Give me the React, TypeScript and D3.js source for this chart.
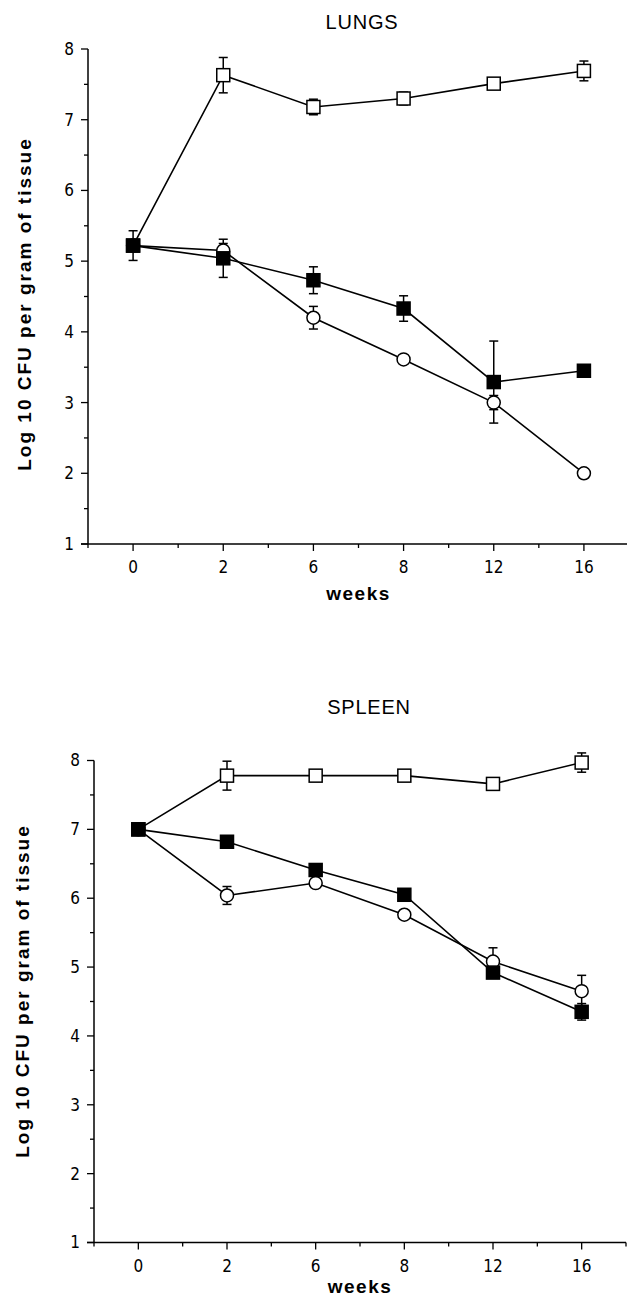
import React, {useEffect, useRef} from "react";
import * as d3 from "d3";

// x categories (weeks) - equally spaced in the figure
const weeks = ["0", "2", "6", "8", "12", "16"];
const yTicks = [1, 2, 3, 4, 5, 6, 7, 8];

// LUNGS
const lungsOpenSq = [5.22, 7.63, 7.18, 7.30, 7.51, 7.69];
const lungsOpenSqErr = [0, 0.25, 0.11, 0.09, 0, 0.14];
const lungsCircle = [5.22, 5.15, 4.20, 3.61, 3.00, 2.00];
const lungsCircleErr = [0, 0.1, 0.16, 0, 0.1, 0];
const lungsFilledSq = [5.22, 5.04, 4.73, 4.33, 3.29, 3.45];
const lungsFilledSqErr = [0.21, 0.27, 0.19, 0.18, 0.58, 0];

// SPLEEN
const spleenOpenSq = [7.0, 7.78, 7.78, 7.78, 7.66, 7.97];
const spleenOpenSqErr = [0, 0.21, 0, 0, 0, 0.14];
const spleenCircle = [7.0, 6.04, 6.22, 5.76, 5.08, 4.65];
const spleenCircleErr = [0, 0.13, 0, 0, 0.2, 0.23];
const spleenFilledSq = [7.0, 6.82, 6.41, 6.05, 4.92, 4.35];
const spleenFilledSqErr = [0, 0, 0, 0, 0, 0.12];

const panels = [
    {
        title: "LUNGS", titleX: 362, titleY: 29,
        axisX: 88, xEnd: 629, yTop: 49, yBottom: 544, labelY: 304, labelX: 31, weeksDy: 56,
        series: [
            {kind: "openSq", values: lungsOpenSq, err: lungsOpenSqErr},
            {kind: "circle", values: lungsCircle, err: lungsCircleErr},
            {kind: "filledSq", values: lungsFilledSq, err: lungsFilledSqErr},
        ],
    },
    {
        title: "SPLEEN", titleX: 369, titleY: 714,
        axisX: 94, xEnd: 626, yTop: 760.5, yBottom: 1242.5, labelY: 991, labelX: 29, weeksDy: 50,
        series: [
            {kind: "openSq", values: spleenOpenSq, err: spleenOpenSqErr},
            {kind: "circle", values: spleenCircle, err: spleenCircleErr},
            {kind: "filledSq", values: spleenFilledSq, err: spleenFilledSqErr},
        ],
    },
];

const tickFont = "'Liberation Sans Narrow', 'DejaVu Sans Condensed', 'Arial Narrow', sans-serif";
const boldFont = "'Liberation Sans', Arial, Helvetica, sans-serif";

const App = () => {
    const ref = useRef(null);

    useEffect(() => {
        const svg = d3.select(ref.current);
        svg.selectAll("*").remove();

        panels.forEach(p => {
            const g = svg.append("g");
            const x = d3.scalePoint().domain(weeks).range([p.axisX, p.xEnd]).padding(0.5);
            const y = d3.scaleLinear().domain([1, 8]).range([p.yBottom, p.yTop]);
            const step = x.step();

            // title
            g.append("text")
                .attr("x", p.titleX)
                .attr("y", p.titleY)
                .attr("text-anchor", "middle")
                .style("font-family", boldFont)
                .style("font-size", "20px")
                .style("letter-spacing", "0.8px")
                .text(p.title);

            // y axis
            g.append("line")
                .attr("x1", p.axisX).attr("x2", p.axisX)
                .attr("y1", y(8)).attr("y2", y(1))
                .attr("stroke", "black").attr("stroke-width", 1.5);
            d3.range(1, 8.01, 0.5).forEach(v => {
                const major = Number.isInteger(v);
                g.append("line")
                    .attr("x1", p.axisX - (major ? 7 : 4)).attr("x2", p.axisX)
                    .attr("y1", y(v)).attr("y2", y(v))
                    .attr("stroke", "black").attr("stroke-width", 1.3);
            });
            g.selectAll(".ytick")
                .data(yTicks)
                .enter()
                .append("text")
                .attr("x", p.axisX - 14)
                .attr("y", d => y(d))
                .attr("dy", "0.35em")
                .attr("text-anchor", "end")
                .style("font-family", tickFont)
                .style("font-size", "17px")
                .text(d => d);

            // x axis
            g.append("line")
                .attr("x1", p.axisX - 7).attr("x2", p.xEnd)
                .attr("y1", y(1)).attr("y2", y(1))
                .attr("stroke", "black").attr("stroke-width", 1.5);
            d3.range(-1, weeks.length).forEach(i => {
                const xm = x(weeks[0]) + (i + 0.5) * step;
                g.append("line")
                    .attr("x1", xm).attr("x2", xm)
                    .attr("y1", y(1)).attr("y2", y(1) + 4)
                    .attr("stroke", "black").attr("stroke-width", 1.3);
            });
            weeks.forEach(w => {
                g.append("line")
                    .attr("x1", x(w)).attr("x2", x(w))
                    .attr("y1", y(1)).attr("y2", y(1) + 7)
                    .attr("stroke", "black").attr("stroke-width", 1.3);
                g.append("text")
                    .attr("x", x(w))
                    .attr("y", y(1) + 29)
                    .attr("text-anchor", "middle")
                    .style("font-family", tickFont)
                    .style("font-size", "17px")
                    .text(w);
            });

            // axis labels
            g.append("text")
                .attr("x", (p.axisX + p.xEnd) / 2)
                .attr("y", y(1) + p.weeksDy)
                .attr("text-anchor", "middle")
                .style("font-family", boldFont)
                .style("font-weight", "bold")
                .style("font-size", "19px")
                .style("letter-spacing", "1.5px")
                .text("weeks");
            g.append("text")
                .attr("transform", `translate(${p.labelX}, ${p.labelY}) rotate(-90)`)
                .attr("text-anchor", "middle")
                .style("font-family", boldFont)
                .style("font-weight", "bold")
                .style("font-size", "19px")
                .style("letter-spacing", "2px")
                .text("Log 10 CFU per gram of tissue");

            const line = d3.line().x((d, i) => x(weeks[i])).y(d => y(d));

            // lines
            p.series.forEach(s => {
                g.append("path")
                    .attr("d", line(s.values))
                    .attr("fill", "none")
                    .attr("stroke", "black")
                    .attr("stroke-width", 1.6);
            });

            // error bars
            p.series.forEach(s => {
                s.values.forEach((v, i) => {
                    const e = s.err[i];
                    if (!e) return;
                    const cx = x(weeks[i]);
                    g.append("line")
                        .attr("x1", cx).attr("x2", cx)
                        .attr("y1", y(v + e)).attr("y2", y(v - e))
                        .attr("stroke", "black").attr("stroke-width", 1.5);
                    [v + e, v - e].forEach(c => {
                        g.append("line")
                            .attr("x1", cx - 4.5).attr("x2", cx + 4.5)
                            .attr("y1", y(c)).attr("y2", y(c))
                            .attr("stroke", "black").attr("stroke-width", 1.5);
                    });
                });
            });

            // markers
            p.series.forEach(s => {
                s.values.forEach((v, i) => {
                    const cx = x(weeks[i]);
                    const cy = y(v);
                    if (s.kind === "circle") {
                        g.append("circle")
                            .attr("cx", cx).attr("cy", cy).attr("r", 6.5)
                            .attr("fill", "white").attr("stroke", "black").attr("stroke-width", 1.5);
                    } else {
                        g.append("rect")
                            .attr("x", cx - 6.5).attr("y", cy - 6.5)
                            .attr("width", 13).attr("height", 13)
                            .attr("fill", s.kind === "filledSq" ? "black" : "white")
                            .attr("stroke", "black").attr("stroke-width", 1.5);
                    }
                });
            });
        });
    }, []);

    return (
        <svg
            ref={ref}
            width={627}
            height={1298}
            style={{position: "absolute", left: 0, top: 0, background: "white"}}
        />
    );
};

export default App;
